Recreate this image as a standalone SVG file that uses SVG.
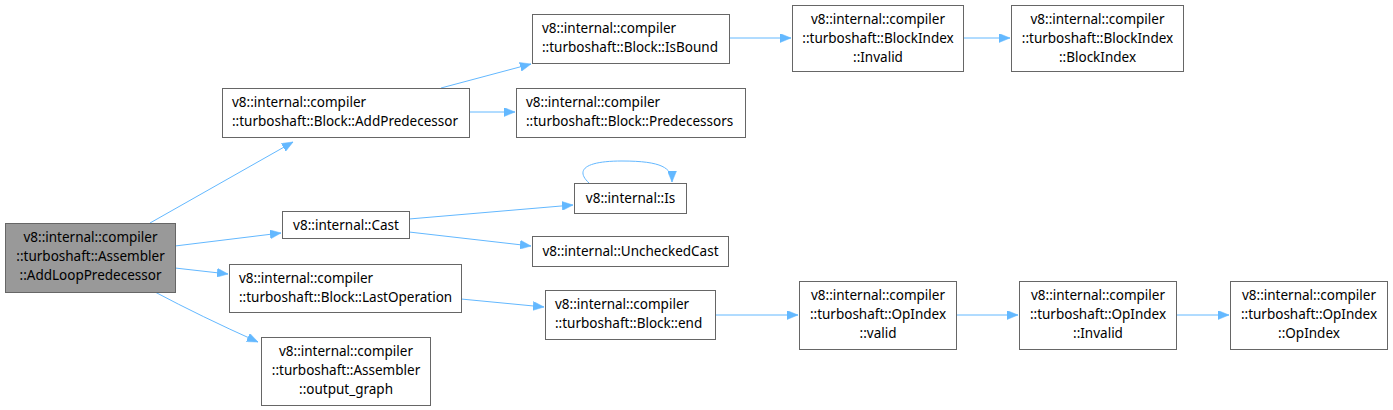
<svg xmlns="http://www.w3.org/2000/svg" width="1393" height="410" viewBox="0 0 1393 410">
<defs>
<marker id="ah" markerWidth="12" markerHeight="9" refX="11" refY="4.500" orient="auto" markerUnits="userSpaceOnUse"><path d="M0,0 L11,4.500 L0,9 z" fill="#63b8ff" stroke="#63b8ff" stroke-width="0.5"/></marker>
<style>
.n rect{fill:#fff;stroke:#666;stroke-width:1}
.n.m rect{fill:#999}
text{font-family:"Noto Sans","Open Sans","DejaVu Sans",sans-serif;font-size:13.5px;fill:#000}
.c{text-anchor:middle}
#edges path{fill:none;stroke:#63b8ff;stroke-width:1;marker-end:url(#ah)}
</style>
</defs>
<rect width="1393" height="410" fill="#fff"/>
<g id="edges">
<path d="M150,223 L293,142"/>
<path d="M175,246 L281,233"/>
<path d="M175,268 L228,274"/>
<path d="M155,292 Q200,316 258,342"/>
<path d="M441,88 L531,64"/>
<path d="M469,112 L515,112"/>
<path d="M729,38 L791,38"/>
<path d="M963,38 L1010,38"/>
<path d="M409,219 L573,205"/>
<path d="M409,232 L531,246"/>
<path d="M589,183 C575,170 585,161 622,161 C662,161 672,168 672,182"/>
<path d="M461,299 L544,307"/>
<path d="M715,315 L798,315"/>
<path d="M956,315 L1018,315"/>
<path d="M1176,315 L1229,315"/>
</g>
<g id="n_main" class="n m"><rect x="5.500" y="223.500" width="170" height="69"/>
<text class="c" x="90.500" y="242">v8::internal::compiler</text>
<text class="c" x="90.500" y="261">::turboshaft::Assembler</text>
<text class="c" x="90.500" y="280">::AddLoopPredecessor</text></g>
<g id="n_addpred" class="n"><rect x="222.500" y="88.500" width="247" height="49"/>
<text x="232" y="107">v8::internal::compiler</text>
<text x="232" y="126">::turboshaft::Block::AddPredecessor</text></g>
<g id="n_isbound" class="n"><rect x="532.500" y="14.500" width="197" height="49"/>
<text x="542" y="33">v8::internal::compiler</text>
<text x="542" y="52">::turboshaft::Block::IsBound</text></g>
<g id="n_preds" class="n"><rect x="516.500" y="88.500" width="229" height="49"/>
<text x="526" y="107">v8::internal::compiler</text>
<text x="526" y="126">::turboshaft::Block::Predecessors</text></g>
<g id="n_biinvalid" class="n"><rect x="792.500" y="5.500" width="171" height="66"/>
<text class="c" x="878" y="24">v8::internal::compiler</text>
<text class="c" x="878" y="43">::turboshaft::BlockIndex</text>
<text class="c" x="878" y="62">::Invalid</text></g>
<g id="n_bibi" class="n"><rect x="1011.500" y="5.500" width="172" height="66"/>
<text class="c" x="1097.500" y="24">v8::internal::compiler</text>
<text class="c" x="1097.500" y="43">::turboshaft::BlockIndex</text>
<text class="c" x="1097.500" y="62">::BlockIndex</text></g>
<g id="n_cast" class="n"><rect x="282.500" y="211.500" width="127" height="27"/>
<text class="c" x="346" y="229.500">v8::internal::Cast</text></g>
<g id="n_is" class="n"><rect x="574.500" y="183.500" width="112" height="30"/>
<text class="c" x="630.500" y="203">v8::internal::Is</text></g>
<g id="n_unchecked" class="n"><rect x="532.500" y="236.500" width="196" height="30"/>
<text class="c" x="630.500" y="256">v8::internal::UncheckedCast</text></g>
<g id="n_lastop" class="n"><rect x="229.500" y="264.500" width="232" height="48"/>
<text x="239" y="283">v8::internal::compiler</text>
<text x="239" y="302">::turboshaft::Block::LastOperation</text></g>
<g id="n_end" class="n"><rect x="545.500" y="290.500" width="170" height="49"/>
<text x="555" y="309">v8::internal::compiler</text>
<text x="555" y="328">::turboshaft::Block::end</text></g>
<g id="n_valid" class="n"><rect x="799.500" y="281.500" width="157" height="68"/>
<text class="c" x="878" y="300">v8::internal::compiler</text>
<text class="c" x="878" y="319">::turboshaft::OpIndex</text>
<text class="c" x="878" y="338">::valid</text></g>
<g id="n_opinvalid" class="n"><rect x="1019.500" y="281.500" width="157" height="68"/>
<text class="c" x="1098" y="300">v8::internal::compiler</text>
<text class="c" x="1098" y="319">::turboshaft::OpIndex</text>
<text class="c" x="1098" y="338">::Invalid</text></g>
<g id="n_opopindex" class="n"><rect x="1230.500" y="281.500" width="157" height="68"/>
<text class="c" x="1309" y="300">v8::internal::compiler</text>
<text class="c" x="1309" y="319">::turboshaft::OpIndex</text>
<text class="c" x="1309" y="338">::OpIndex</text></g>
<g id="n_outgraph" class="n"><rect x="261.500" y="337.500" width="169" height="68"/>
<text class="c" x="346" y="356">v8::internal::compiler</text>
<text class="c" x="346" y="375">::turboshaft::Assembler</text>
<text class="c" x="346" y="394">::output_graph</text></g>
</svg>
